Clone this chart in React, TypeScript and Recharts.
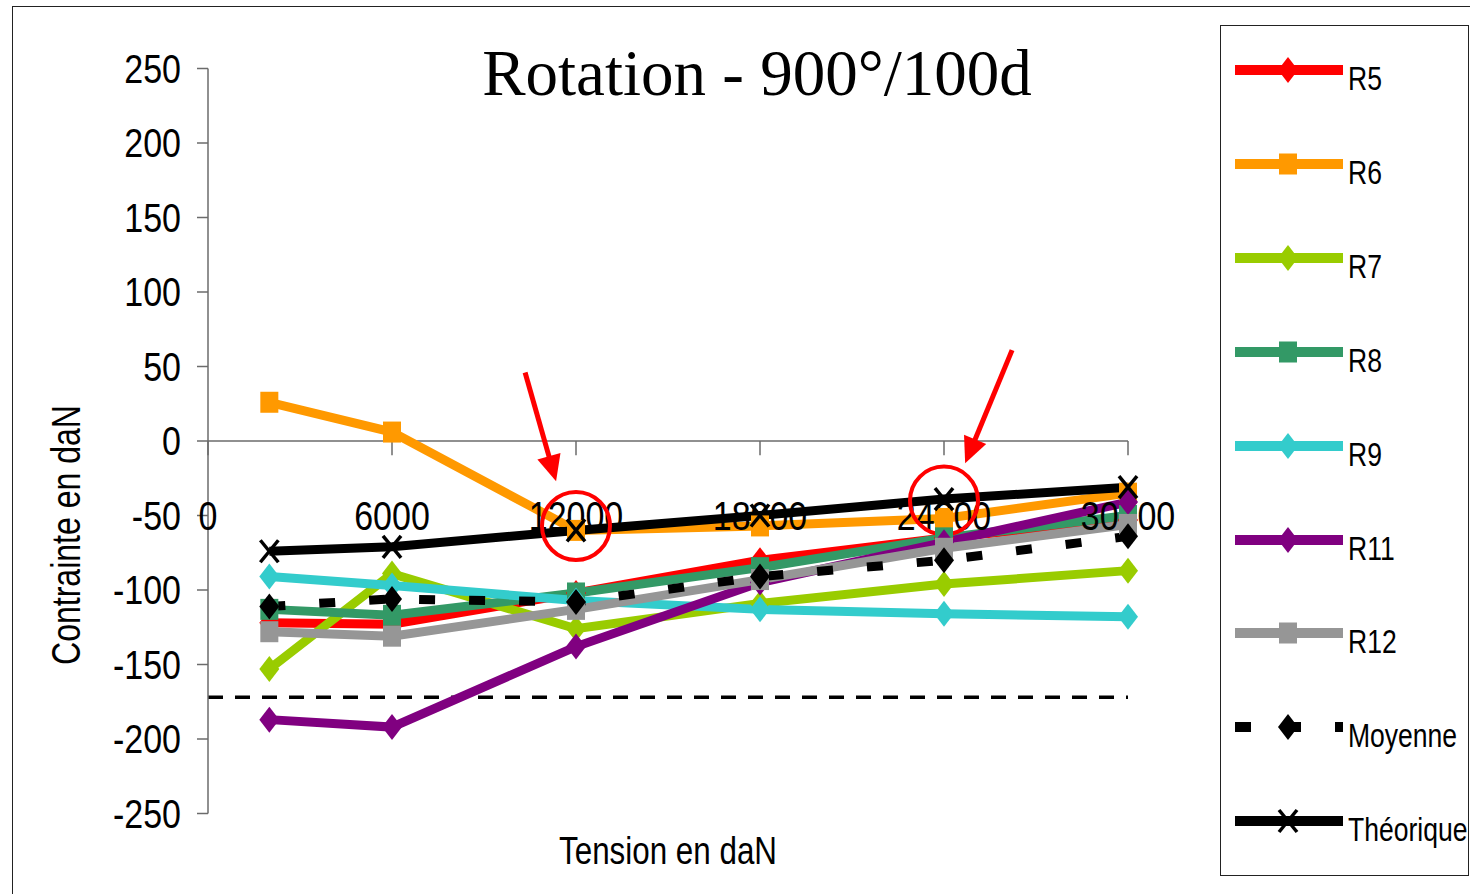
import React from 'react';
import { LineChart, Line, XAxis, YAxis, ReferenceLine, ReferenceDot, Legend } from 'recharts';

// ---- data ----
const tensions = [2000, 6000, 12000, 18000, 24000, 30000];
const r5 = [-122, -123, -102, -80, -65, -53];
const r6 = [26, 6, -60, -57, -52, -35];
const r7 = [-153, -89, -126, -109, -96, -87];
const r8 = [-113, -117, -102, -85, -65, -50];
const r9 = [-91, -97, -107, -113, -116, -118];
const r11 = [-187, -192, -138, -95, -68, -41];
const r12 = [-128, -131, -113, -93, -72, -56];
const moyenne = [-111, -106, -108, -91, -80, -64];
const theorique = [-74, -71, -60, -50, -39, -31];

const xTicks = [0, 6000, 12000, 18000, 24000, 30000];
const yTicks = [250, 200, 150, 100, 50, 0, -50, -100, -150, -200, -250];
const limite = -172;
const circles = [
  { x: 12000, y: -57 },
  { x: 24000, y: -40 },
];
const arrows = [
  { from: { x: 10340, y: 46 }, to: { x: 11350, y: -27 } },
  { from: { x: 26220, y: 61 }, to: { x: 24690, y: -15 } },
];

const seriesDefs = [
  { key: 'R5', name: 'R5', color: '#FF0000', marker: 'diamond', values: r5 },
  { key: 'R6', name: 'R6', color: '#FF9900', marker: 'square', values: r6 },
  { key: 'R7', name: 'R7', color: '#99CC00', marker: 'diamond', values: r7 },
  { key: 'R8', name: 'R8', color: '#339966', marker: 'square', values: r8 },
  { key: 'R9', name: 'R9', color: '#33CCCC', marker: 'diamond', values: r9 },
  { key: 'R11', name: 'R11', color: '#800080', marker: 'diamond', values: r11 },
  { key: 'R12', name: 'R12', color: '#969696', marker: 'square', values: r12 },
  { key: 'Moyenne', name: 'Moyenne', color: '#000000', marker: 'diamond', values: moyenne, dash: '16 34' },
  { key: 'Theorique', name: 'Théorique', color: '#000000', marker: 'x', values: theorique },
];

const data = tensions.map((x, i) => {
  const row: any = { x };
  seriesDefs.forEach((s) => {
    row[s.key] = s.values[i];
  });
  return row;
});

const FONT = "'Liberation Sans', Arial, sans-serif";
const SQUEEZE = 0.85;
const W = 1470;
const H = 894;

function Marker({ cx, cy, shape, color }: any) {
  if (cx == null || cy == null) return null;
  if (shape === 'diamond') {
    return (
      <polygon
        points={`${cx},${cy - 13} ${cx + 10},${cy} ${cx},${cy + 13} ${cx - 10},${cy}`}
        fill={color}
      />
    );
  }
  if (shape === 'square') {
    return <rect x={cx - 9} y={cy - 10.5} width={18} height={21} fill={color} />;
  }
  return (
    <g stroke={color} strokeWidth={3.5}>
      <line x1={cx - 9} y1={cy - 11} x2={cx + 9} y2={cy + 11} />
      <line x1={cx - 9} y1={cy + 11} x2={cx + 9} y2={cy - 11} />
    </g>
  );
}

function NarrowText({ x, y, anchor, children }: any) {
  return (
    <text
      transform={`translate(${x},${y}) scale(${SQUEEZE},1)`}
      textAnchor={anchor}
      dy="0.36em"
      fontFamily={FONT}
      fontSize={40}
      fill="#000"
    >
      {children}
    </text>
  );
}

function YTick(props: any) {
  const { x, y, payload } = props;
  return <NarrowText x={x} y={y} anchor="end">{payload.value}</NarrowText>;
}

function XTickLabel(props: any) {
  const { viewBox, value } = props;
  if (!viewBox) return null;
  const cx = viewBox.x + (viewBox.width || 0) / 2;
  const cy = viewBox.y + (viewBox.height || 0) / 2;
  return <NarrowText x={cx} y={cy} anchor="middle">{value}</NarrowText>;
}

function Arrow(props: any) {
  const { x1, y1, x2, y2 } = props;
  const dx = x2 - x1;
  const dy = y2 - y1;
  const len = Math.sqrt(dx * dx + dy * dy);
  const ux = dx / len;
  const uy = dy / len;
  const headLen = 26;
  const headHalf = 12;
  const bx = x2 - ux * headLen;
  const by = y2 - uy * headLen;
  const px = -uy;
  const py = ux;
  return (
    <g>
      <line x1={x1} y1={y1} x2={bx + ux * 2} y2={by + uy * 2} stroke="#FF0000" strokeWidth={5} />
      <polygon
        points={`${x2},${y2} ${bx + px * headHalf},${by + py * headHalf} ${bx - px * headHalf},${by - py * headHalf}`}
        fill="#FF0000"
      />
    </g>
  );
}

function LegendContent(props: any) {
  const payload = props.payload || [];
  const present = new Set(payload.map((p: any) => p.dataKey));
  const items = seriesDefs.filter((s) => present.size === 0 || present.has(s.key));
  return (
    <div style={{ position: 'relative', width: '100%', height: '100%' }}>
      {items.map((s, i) => {
        const cy = 44 + i * 93.9;
        return (
          <div key={s.key} style={{ position: 'absolute', left: 0, top: cy - 20, width: '100%', height: 40 }}>
            <svg width={126} height={40} style={{ position: 'absolute', left: 0, top: 0 }}>
              <line
                x1={14}
                x2={122}
                y1={20}
                y2={20}
                stroke={s.color}
                strokeWidth={10}
                strokeDasharray={s.dash}
              />
              <Marker cx={67} cy={20} shape={s.marker} color={s.color} />
            </svg>
            <span
              style={{
                position: 'absolute',
                left: 127,
                top: 28,
                transform: 'translateY(-50%) scaleX(0.78)',
                transformOrigin: 'left center',
                fontFamily: FONT,
                fontSize: 34,
                lineHeight: 1,
                color: '#000',
                whiteSpace: 'nowrap',
              }}
            >
              {s.name}
            </span>
          </div>
        );
      })}
    </div>
  );
}

export default function App() {
  return (
    <div style={{ position: 'absolute', left: 0, top: 0, width: W, height: H, overflow: 'hidden', background: '#fff' }}>
      <div
        style={{
          position: 'absolute',
          left: 12,
          top: 6,
          width: W,
          height: H,
          border: '1.5px solid #222',
          boxSizing: 'border-box',
        }}
      />
      <div style={{ position: 'absolute', left: 0, top: 0 }}>
        <LineChart
          width={W}
          height={H}
          data={data}
          margin={{ top: 68.5, right: 342, bottom: 80.5, left: 108 }}
        >
          <XAxis dataKey="x" type="number" domain={[0, 30000]} ticks={xTicks} hide />
          <YAxis
            type="number"
            domain={[-250, 250]}
            ticks={yTicks}
            interval={0}
            width={100}
            axisLine={{ stroke: '#6b6b6b', strokeWidth: 1.5 }}
            tickLine={{ stroke: '#6b6b6b', strokeWidth: 1.5 }}
            tickSize={11}
            tickMargin={16}
            tick={<YTick />}
          />
          <ReferenceLine y={0} stroke="#6b6b6b" strokeWidth={1.5} />
          {xTicks.map((t) => (
            <ReferenceLine
              key={`tk-${t}`}
              segment={[
                { x: t, y: 0 },
                { x: t, y: -9.5 },
              ]}
              stroke="#6b6b6b"
              strokeWidth={1.5}
            />
          ))}
          {xTicks.map((t) => (
            <ReferenceDot
              key={`tl-${t}`}
              x={t}
              y={-50}
              r={0}
              fill="none"
              stroke="none"
              label={{ value: String(t), position: 'center', content: (p: any) => <XTickLabel {...p} /> }}
            />
          ))}
          <ReferenceLine y={limite} stroke="#000" strokeWidth={3.5} strokeDasharray="15 12" />
          {seriesDefs.map((s) => (
            <Line
              key={s.key}
              dataKey={s.key}
              name={s.name}
              stroke={s.color}
              strokeWidth={9}
              strokeDasharray={s.dash}
              isAnimationActive={false}
              activeDot={false}
              dot={(p: any) => (
                <Marker key={`${s.key}-${p.index}`} cx={p.cx} cy={p.cy} shape={s.marker} color={s.color} />
              )}
            />
          ))}
          {circles.map((c, i) => (
            <ReferenceDot key={`c-${i}`} x={c.x} y={c.y} r={34} fill="none" stroke="#FF0000" strokeWidth={4} />
          ))}
          {arrows.map((a, i) => (
            <ReferenceLine key={`a-${i}`} segment={[a.from, a.to]} shape={(p: any) => <Arrow {...p} />} />
          ))}
          <Legend
            layout="vertical"
            align="center"
            verticalAlign="middle"
            content={<LegendContent />}
            wrapperStyle={{
              left: 1220,
              top: 25,
              width: 249,
              height: 851,
              border: '1.5px solid #222',
              boxSizing: 'border-box',
              background: '#fff',
            }}
          />
        </LineChart>
      </div>
      <svg width={W} height={H} style={{ position: 'absolute', left: 0, top: 0, pointerEvents: 'none' }}>
        <text x={757} y={95} textAnchor="middle" fontFamily="'Liberation Serif', 'Times New Roman', serif" fontSize={65} fill="#000">
          Rotation - 900°/100d
        </text>
        <text
          x={668}
          y={864}
          textAnchor="middle"
          fontFamily={FONT}
          fontSize={38}
          fill="#000"
          textLength={218}
          lengthAdjust="spacingAndGlyphs"
        >
          Tension en daN
        </text>
        <text
          x={80}
          y={535}
          textAnchor="middle"
          transform="rotate(-90 80 535)"
          fontFamily={FONT}
          fontSize={40}
          fill="#000"
          textLength={260}
          lengthAdjust="spacingAndGlyphs"
        >
          Contrainte en daN
        </text>
      </svg>
    </div>
  );
}
